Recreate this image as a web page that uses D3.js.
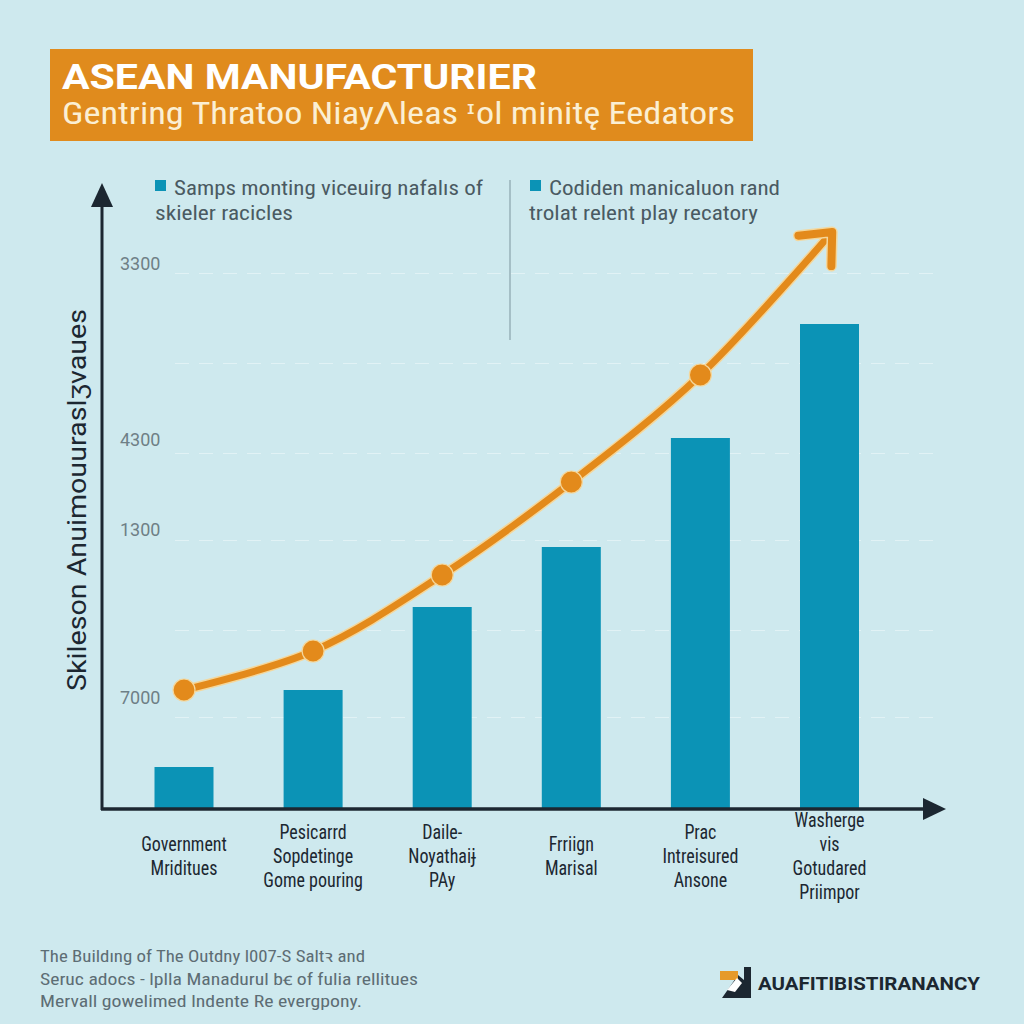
<!DOCTYPE html>
<html><head><meta charset="utf-8">
<script src="https://cdn.jsdelivr.net/npm/d3@7"></script>
<style>
html,body{margin:0;padding:0;background:#cfe9ee;}
svg{display:block;}
</style></head>
<body>
<script>
// ---------- data ----------
const categories = [
  ["Government","Mriditues"],
  ["Pesicarrd","Sopdetinge","Gome pouring"],
  ["Daile-","Noyathaiɉ","PAy"],
  ["Frriign","Marisal"],
  ["Prac","Intreisured","Ansone"],
  ["Washerge","vis","Gotudared","Priimpor"]
];
const barValues  = [41, 118, 201, 261, 370, 484];
const lineValues = [118, 157, 233, 326, 433, 573];
const tickValues = [538, 362, 272, 104];
const tickLabels = ["3300", "4300", "1300", "7000"];
const gridValues = [91, 178, 268, 355, 445, 535];
const titleText = "ASEAN  MANUFACTURIER";
const subtitleText = "Gentring Thratoo NiayɅleas ᶦol minitę Eedators";
const legendItems = [
  ["Samps monting viceuirg nafalıs of", "skieler racicles"],
  ["Codiden manicaluon rand", "trolat relent play recatory"]
];
const yTitle = "Skileson Anuimouuraslʒvaues";
const footerLines = [
  "The Buildıng of The Outdny l007-S Saltꝛ and",
  "Seruc adocs - lplla Manadurul bꞓ of fulia rellitues",
  "Mervall gowelimed lndente Re evergpony."
];
const brandText = "AUAFITIBISTIRANANCY";

// ---------- setup ----------
const W = 1024, H = 1024;
const svg = d3.select("body").append("svg").attr("width", W).attr("height", H);
const cond = "'Liberation Sans Narrow','Roboto Condensed',Roboto,'DejaVu Sans',sans-serif";
const BAR = "#0b93b6", ORANGE = "#e38a1b", DARK = "#1c2731";

svg.append("rect").attr("width", W).attr("height", H).attr("fill", "#cee9ee");

// title box
svg.append("rect").attr("x", 50).attr("y", 49).attr("width", 703).attr("height", 92).attr("fill", "#e08b1d");
svg.append("text").attr("x", 62).attr("y", 89).text(titleText)
  .attr("font-family", "Roboto,'Liberation Sans',sans-serif").attr("font-weight", 700)
  .attr("font-size", 35).attr("fill", "#ffffff")
  .attr("textLength", 475).attr("lengthAdjust", "spacingAndGlyphs");
svg.append("text").attr("x", 62).attr("y", 124).text(subtitleText)
  .attr("font-family", cond).attr("font-size", 31).attr("fill", "#fbefd3")
  .attr("textLength", 673).attr("lengthAdjust", "spacingAndGlyphs");

// scales
const x = d3.scalePoint().domain(d3.range(categories.length)).range([184, 829.5]);
const y = d3.scaleLinear().domain([0, 600]).range([808, 208]);
const bw = 59;

// gridlines
const grid = svg.append("g").attr("transform", "translate(175,0)")
  .call(d3.axisLeft(y).tickValues(gridValues).tickSize(-760).tickFormat(""));
grid.select(".domain").remove();
grid.selectAll("line").attr("stroke", "#ffffff").attr("stroke-opacity", 0.4)
  .attr("stroke-dasharray", "14,10").attr("stroke-width", 1.2);

// tick labels
const yax = svg.append("g").attr("transform", "translate(120,-6)")
  .call(d3.axisRight(y).tickValues(tickValues).tickSize(0).tickPadding(0)
    .tickFormat((d, i) => tickLabels[i]));
yax.select(".domain").remove();
yax.selectAll("text").attr("font-family", "Roboto,sans-serif").attr("font-size", 18)
  .attr("fill", "#6e7f86");

// legend
const legX = [155, 530];
const legText = [[174, 155], [549, 529]];
const legW = [[309, 138], [231, 229]];
legendItems.forEach((item, i) => {
  svg.append("rect").attr("x", legX[i]).attr("y", 180).attr("width", 11).attr("height", 11).attr("fill", BAR);
  item.forEach((ln, j) => {
    svg.append("text").attr("x", legText[i][j]).attr("y", 195 + j * 25).text(ln)
      .attr("font-family", cond).attr("font-size", 21).attr("fill", "#4a5a62")
      .attr("textLength", legW[i][j]).attr("lengthAdjust", "spacingAndGlyphs");
  });
});
svg.append("line").attr("x1", 510).attr("x2", 510).attr("y1", 180).attr("y2", 340)
  .attr("stroke", "#8aa3ac").attr("stroke-width", 1.2);

// bars
svg.selectAll("rect.bar").data(barValues).join("rect").attr("class", "bar")
  .attr("x", (d, i) => x(i) - bw / 2).attr("width", bw)
  .attr("y", d => y(d)).attr("height", d => y(0) - y(d)).attr("fill", BAR);

// axes with arrows
svg.append("line").attr("x1", 102).attr("y1", 810).attr("x2", 102).attr("y2", 200)
  .attr("stroke", DARK).attr("stroke-width", 3);
svg.append("path").attr("d", "M102,183 L91,207 L113,207 Z").attr("fill", DARK);
svg.append("line").attr("x1", 101).attr("y1", 809).attr("x2", 930).attr("y2", 809)
  .attr("stroke", DARK).attr("stroke-width", 3.5);
svg.append("path").attr("d", "M946,809 L923,798 L923,820 Z").attr("fill", DARK);

// line
const pts = lineValues.map((v, i) => [x(i), y(v)]);
const lineGen = d3.line().curve(d3.curveCatmullRom.alpha(0.5));
svg.append("path").attr("d", lineGen(pts)).attr("fill", "none")
  .attr("stroke", "#f4d79c").attr("stroke-width", 10).attr("stroke-linecap", "round");
svg.append("path").attr("d", lineGen(pts)).attr("fill", "none")
  .attr("stroke", ORANGE).attr("stroke-width", 7).attr("stroke-linecap", "round");
// arrow head
const [px, py] = pts[pts.length - 2], [tx, ty] = pts[pts.length - 1];
const ang = Math.atan2(ty - py, tx - px);
const tip = [tx + 4 * Math.cos(ang), ty + 4 * Math.sin(ang)];
const L = 34, spread = 0.72;
const a1 = [tip[0] - L * Math.cos(ang - spread), tip[1] - L * Math.sin(ang - spread)];
const a2 = [tip[0] - L * Math.cos(ang + spread), tip[1] - L * Math.sin(ang + spread)];
const headD = `M${a1[0]},${a1[1]} L${tip[0]},${tip[1]} L${a2[0]},${a2[1]}`;
svg.append("path").attr("d", headD).attr("fill", "none").attr("stroke", "#f4d79c")
  .attr("stroke-width", 11).attr("stroke-linecap", "round").attr("stroke-linejoin", "round");
svg.append("path").attr("d", headD).attr("fill", "none").attr("stroke", ORANGE)
  .attr("stroke-width", 8).attr("stroke-linecap", "round").attr("stroke-linejoin", "round");
// markers
svg.selectAll("circle.mk").data(pts.slice(0, -1)).join("circle").attr("class", "mk")
  .attr("cx", d => d[0]).attr("cy", d => d[1]).attr("r", 11)
  .attr("fill", ORANGE).attr("stroke", "#f4d79c").attr("stroke-width", 1.2);

// y title
svg.append("text").attr("transform", "translate(86,500) rotate(-90)")
  .attr("text-anchor", "middle").text(yTitle)
  .attr("font-family", "Roboto,'Liberation Sans',sans-serif").attr("font-size", 26).attr("fill", DARK)
  .attr("textLength", 382).attr("lengthAdjust", "spacingAndGlyphs");

// x labels (condensed look via horizontal scale)
categories.forEach((lines, i) => {
  const lh = 24, n = lines.length;
  const y0 = 856 - (n - 1) * lh / 2;
  const g = svg.append("g").attr("transform", `translate(${x(i)},0) scale(0.9,1)`);
  lines.forEach((ln, j) => {
    g.append("text").attr("x", 0).attr("y", y0 + j * lh).attr("dy", "0.35em")
      .attr("text-anchor", "middle").text(ln)
      .attr("font-family", cond).attr("font-size", 20).attr("fill", DARK);
  });
});

// footer
const fW = [325, 378, 322];
footerLines.forEach((ln, j) => {
  svg.append("text").attr("x", 40).attr("y", 962 + j * 22.5).text(ln)
    .attr("font-family", cond).attr("font-size", 17).attr("fill", "#5d6d74")
    .attr("textLength", fW[j]).attr("lengthAdjust", "spacingAndGlyphs");
});

// brand logo
const lg = svg.append("g");
lg.append("path").attr("d", "M722,998 L738,975 L744,980 L744,967 L751,967 L751,998 Z").attr("fill", DARK);
lg.append("path").attr("d", "M720,971 L738,971 L738,980 L720,980 Z").attr("fill", "#e69a2a");
lg.append("path").attr("d", "M727,990 L737,978 L742,983 L735,992 Z").attr("fill", "#ffffff");
svg.append("text").attr("x", 758).attr("y", 990).text(brandText)
  .attr("font-family", "Roboto,'Liberation Sans',sans-serif").attr("font-weight", 700)
  .attr("font-size", 19).attr("fill", DARK)
  .attr("textLength", 222).attr("lengthAdjust", "spacingAndGlyphs");
</script>
</body></html>
